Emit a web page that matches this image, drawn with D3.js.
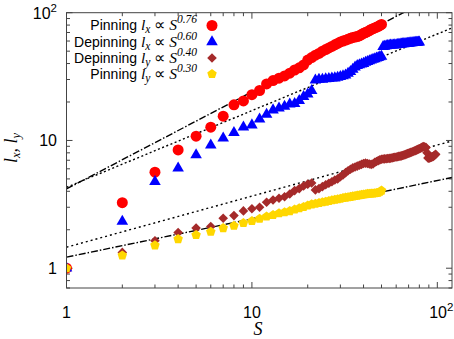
<!DOCTYPE html>
<html><head><meta charset="utf-8">
<script src="https://cdn.jsdelivr.net/npm/d3@7/dist/d3.min.js"></script>
<style>body{margin:0;background:#fff}svg{display:block}</style>
</head><body><svg id="c" width="454" height="339"></svg>
<script>
// ---- data (S = 1, 2, 3, ... for each series) ----
const pinningLx = [1,3.26,5.64,8.43,10.8,12.7,15.5,19.0,20.4,22.8,24.6,27.7,29.4,30.7,32,33.6,35.6,37,39,42.6,44.5,46.5,48,50,51.5,53,54.5,56,57.5,59,60,61,62,63,64,64.5,65,66,67.5,69,70,71,72.5,74,75,76,77,78,79.5,81];
const depinningLx = [1,2.32,4.76,6.06,7.7,9.17,10.4,11.5,12.7,13.2,14.7,16.0,17.3,17.9,18.5,19.2,19.4,20.5,22,23,24.5,29.7,30,30.1,30.3,30.5,30.7,30.8,31.2,31.6,32,32.5,33.5,34.5,36,37.5,38.5,39,39.5,40,40.8,41.4,42,42.5,43,43.5,44,44.5,45,45.5,54.2,54.5,55,55.3,55.5,55.6,55.7,55.8,55.9,56,56.2,56.4,56.6,56.8,57,57.1,57.2,57.3,57.4,57.6,57.8,58,58.1,58.2,58.3,58.4,58.5,58.6,58.7,58.8];
const depinningLy = [1,1.33,1.64,1.9,2.06,2.12,2.46,2.58,2.81,2.92,3.0,3.28,3.42,3.53,3.63,3.81,4.05,4.2,4.4,4.55,4.65,4.1,4.2,4.35,4.5,4.63,4.75,4.9,5.0,5.2,5.37,5.6,5.8,5.95,6.1,6.2,6.3,6.4,6.5,6.6,6.65,6.6,6.55,6.5,6.55,6.75,6.85,6.95,7.05,7.12,7.15,7.18,7.2,7.22,7.24,7.26,7.3,7.35,7.38,7.42,7.46,7.5,7.54,7.57,7.62,7.68,7.75,7.82,7.88,7.94,8.0,8.06,8.12,8.2,8.26,8.32,8.4,8.48,8.55,8.62,8.7,8.78,8.86,8.94,8.9,8.85,8.8,8.0,7.3,7.26,7.3,7.35,7.4,7.45,7.5,7.6,7.7,7.8];
const pinningLy = [1,1.26,1.51,1.69,1.82,1.93,2.06,2.15,2.26,2.34,2.44,2.54,2.61,2.69,2.74,2.8,2.88,2.95,3.02,3.1,3.16,3.2,3.24,3.28,3.32,3.36,3.4,3.44,3.47,3.5,3.54,3.57,3.6,3.62,3.65,3.68,3.7,3.72,3.75,3.78,3.8,3.82,3.83,3.84,3.85,3.86,3.88,3.9,3.97,4.05];

const seriesNames = ["Pinning","Depinning","Depinning","Pinning"];
const seriesVars = ["x","x","y","y"];
const exponents = ["0.76","0.60","0.40","0.30"];
const fitPrefactors = [4.17, 4.3, 1.46, 1.22];
const fitExponents = [0.76, 0.60, 0.40, 0.30];
const colors = ["#ff0000","#0000ff","#a52a2a","#ffd700"];
const xTickLabels = ["1","10","10^2"];
const yTickLabels = ["1","10","10^2"];
const xMajor = [1,10,100];
const yMajor = [1,10,100];

// ---- layout ----
const L = 66.5, R = 452, T = 12.7, B = 288;
const x = d3.scaleLog().domain([1,120]).range([L,R]);
const y = d3.scaleLog().domain([0.7,100]).range([B,T]);
const svg = d3.select("#c");

svg.append("defs").append("clipPath").attr("id","clip")
  .append("rect").attr("x",L).attr("y",T).attr("width",R-L).attr("height",B-T);

// ticks (inward, mirrored)
const xMinor = [2,3,4,5,6,7,8,9,20,30,40,50,60,70,80,90];
const yMinor = [0.7,0.8,0.9,2,3,4,5,6,7,8,9,20,30,40,50,60,70,80,90];
const tk = svg.append("g").attr("stroke","#444").attr("stroke-width",1);
xMajor.forEach(v=>{const px=x(v);tk.append("line").attr("x1",px).attr("x2",px).attr("y1",B).attr("y2",B-6);tk.append("line").attr("x1",px).attr("x2",px).attr("y1",T).attr("y2",T+6);});
xMinor.forEach(v=>{const px=x(v);tk.append("line").attr("x1",px).attr("x2",px).attr("y1",B).attr("y2",B-3.5);tk.append("line").attr("x1",px).attr("x2",px).attr("y1",T).attr("y2",T+3.5);});
yMajor.forEach(v=>{const py=y(v);tk.append("line").attr("x1",L).attr("x2",L+6).attr("y1",py).attr("y2",py);tk.append("line").attr("x1",R).attr("x2",R-6).attr("y1",py).attr("y2",py);});
yMinor.forEach(v=>{const py=y(v);tk.append("line").attr("x1",L).attr("x2",L+3.5).attr("y1",py).attr("y2",py);tk.append("line").attr("x1",R).attr("x2",R-3.5).attr("y1",py).attr("y2",py);});

// tick labels
function tickText(g, lab){
  if(lab.indexOf("^")>=0){const p=lab.split("^");g.append("tspan").text(p[0]);g.append("tspan").attr("font-size","11.5px").attr("dy","-6.5").text(p[1]);}
  else g.text(lab);
}
xMajor.forEach((v,i)=>{
  const t=svg.append("text").attr("x",x(v)+(i===2?4:0)).attr("y",317.5).attr("text-anchor","middle")
   .attr("font-family","Liberation Sans, Arial, sans-serif").attr("font-size","16px").attr("fill","#000");
  tickText(t,xTickLabels[i]);
});
yMajor.forEach((v,i)=>{
  const t=svg.append("text").attr("x",57).attr("y",y(v)+6).attr("text-anchor","end")
   .attr("font-family","Liberation Sans, Arial, sans-serif").attr("font-size","16px").attr("fill","#000");
  tickText(t,yTickLabels[i]);
});

// fit lines
const dashes = ["7,2,1.5,2","2,2.5","2,3","7,2,1.5,2"];
const lg = svg.append("g").attr("clip-path","url(#clip)");
fitPrefactors.forEach((a,i)=>{
  const pts = [1,120].map(s=>[x(s), y(a*Math.pow(s,fitExponents[i]))]);
  lg.append("path").attr("d",d3.line()(pts)).attr("fill","none").attr("stroke","#000")
    .attr("stroke-width",1.4).attr("stroke-dasharray",dashes[i]);
});

// markers
function pentagon(r){const p=[];for(let k=0;k<5;k++){const a=-Math.PI/2+k*2*Math.PI/5;p.push([r*Math.cos(a),r*Math.sin(a)]);}return "M"+p.map(d=>d.join(",")).join("L")+"Z";}
const shapes = [
  d3.symbol(d3.symbolCircle,95)(),
  d3.symbol(d3.symbolTriangle,58)(),
  "M0,-4.8L4.8,0L0,4.8L-4.8,0Z",
  pentagon(5)
];
const allSeries = [pinningLx, depinningLx, depinningLy, pinningLy];
const mg = svg.append("g").attr("clip-path","url(#clip)");
allSeries.forEach((vals,i)=>{
  mg.append("g").selectAll("path").data(vals).join("path")
    .attr("d",shapes[i]).attr("fill",colors[i])
    .attr("transform",(d,j)=>`translate(${x(j+1)},${y(d)})`);
});

// frame
svg.append("rect").attr("x",L).attr("y",T).attr("width",R-L).attr("height",B-T)
  .attr("fill","none").attr("stroke","#444").attr("stroke-width",1);

// legend
const serif = "Liberation Serif, Times New Roman, serif";
const legY = [30,46.5,62.5,78.5];
seriesNames.forEach((n,i)=>{
  const t = svg.append("text").attr("x",197).attr("y",legY[i]).attr("text-anchor","end")
    .attr("font-size","14px").attr("fill","#000");
  t.append("tspan").attr("font-family","Liberation Sans, Arial, sans-serif").text(n+" ");
  t.append("tspan").attr("font-family",serif).attr("font-style","italic").attr("font-size","15.5px").text("l");
  t.append("tspan").attr("font-family",serif).attr("font-style","italic").attr("font-size","11.5px").attr("dy","3").text(seriesVars[i]);
  t.append("tspan").attr("font-family",serif).attr("font-size","15.5px").attr("dy","-3").text(" \u221D ");
  t.append("tspan").attr("font-family",serif).attr("font-style","italic").attr("font-size","15.5px").text("S");
  t.append("tspan").attr("font-family",serif).attr("font-style","italic").attr("font-size","11.5px").attr("dy","-7").text(exponents[i]);
  svg.append("path").attr("d",shapes[i]).attr("fill",colors[i])
    .attr("transform",`translate(212,${legY[i]-4.5})`);
});

// axis titles
const yl = svg.append("text").attr("transform","translate(17,148) rotate(-90)").attr("text-anchor","middle")
  .attr("font-family",serif).attr("font-style","italic").attr("font-size","18px").attr("fill","#000");
yl.append("tspan").text("l");
yl.append("tspan").attr("font-size","12.5px").attr("dy","3").text("x");
yl.append("tspan").attr("dy","-3").text(", l");
yl.append("tspan").attr("font-size","12.5px").attr("dy","3").text("y");
svg.append("text").attr("x",258).attr("y",335).attr("text-anchor","middle")
  .attr("font-family",serif).attr("font-style","italic").attr("font-size","18px").attr("fill","#000").text("S");
</script></body></html>
